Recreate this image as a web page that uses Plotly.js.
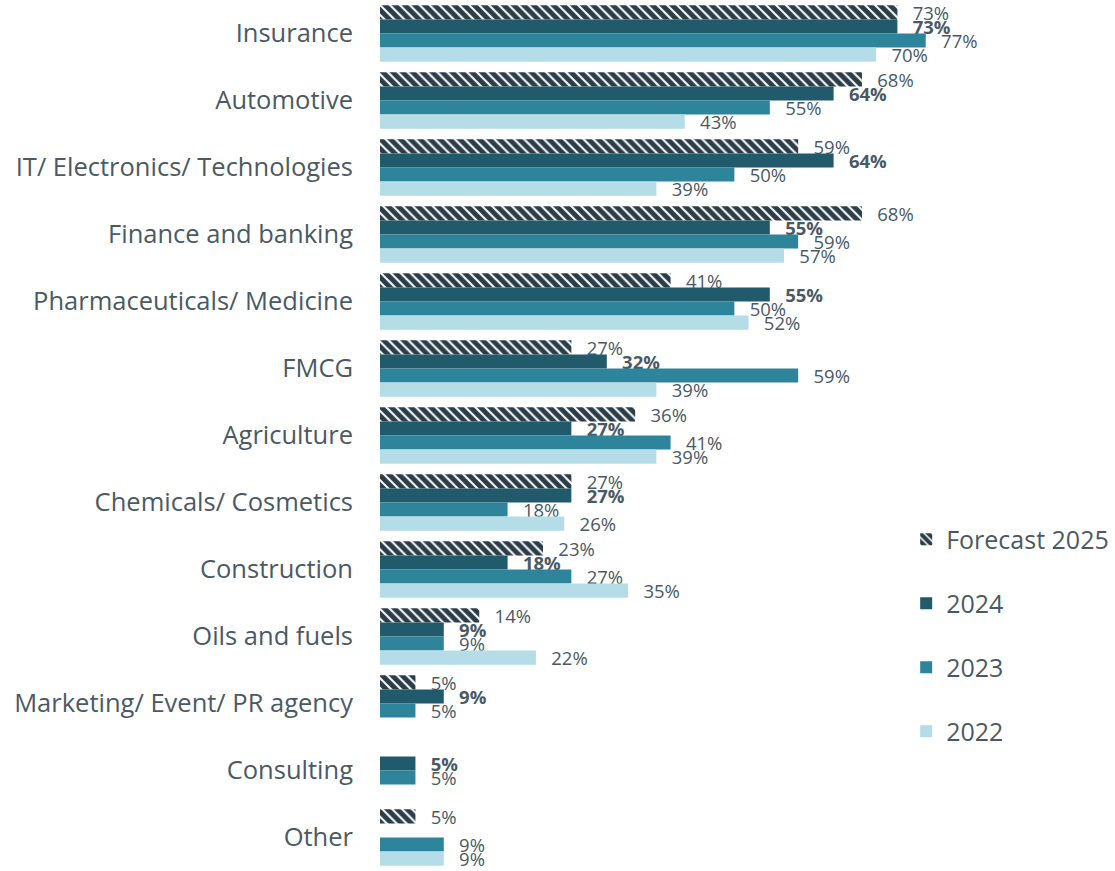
<!DOCTYPE html>
<html>
<head>
<meta charset="utf-8">
<script src="https://cdn.plot.ly/plotly-3.0.1.min.js"></script>
<style>html,body{margin:0;padding:0;background:#fff;}#chart{width:1115px;height:871px;}</style>
</head>
<body>
<div id="chart"></div>
<script>
const categories = ["Insurance","Automotive","IT/ Electronics/ Technologies","Finance and banking","Pharmaceuticals/ Medicine","FMCG","Agriculture","Chemicals/ Cosmetics","Construction","Oils and fuels","Marketing/ Event/ PR agency","Consulting","Other"];
const forecast2025 = [73,68,59,68,41,27,36,27,23,14,5,null,5];
const y2024 = [73,64,64,55,55,32,27,27,18,9,9,5,null];
const y2023 = [77,55,50,59,50,59,41,18,27,9,5,5,9];
const y2022 = [70,43,39,57,52,39,39,26,35,22,null,null,9];

const txtColor = "#4a5a64";
const fontFam = "'Open Sans', 'Noto Sans', sans-serif";

function mk(name, vals, color, bold, pattern){
  const t = {
    type: "bar", orientation: "h", name: name,
    y: categories, x: vals,
    text: vals.map(v => v == null ? "" : "\u2002\u2009" + v + "%"),
    textposition: "outside",
    constraintext: "none",
    cliponaxis: false,
    textfont: {family: fontFam, size: 18.5, color: txtColor, weight: bold ? 700 : 400},
    marker: {color: color, line: {width: 0}},
    legendgroup: name,
    hoverinfo: "skip"
  };
  if (pattern) {
    t.marker = {color: "#ffffff", line: {width: 0},
      pattern: {shape: "\\", fgcolor: "#2b3d48", fgopacity: 1, bgcolor: "#ffffff", size: 7, solidity: 0.72, fillmode: "overlay"}};
  }
  return t;
}

const data = [
  mk("Forecast 2025", forecast2025, "#3d4f5a", false, true),
  mk("2024", y2024, "#215a6b", true, false),
  mk("2023", y2023, "#2e849a", false, false),
  mk("2022", y2022, "#b5dde7", false, false)
];

const layout = {
  width: 1115, height: 871,
  margin: {l: 380, r: 168, t: 0, b: 0, pad: 0},
  paper_bgcolor: "#fff", plot_bgcolor: "#fff",
  barmode: "group", bargap: 0.16, bargroupgap: 0,
  showlegend: true,
  font: {family: fontFam, color: txtColor},
  xaxis: {range: [0, 80], visible: false, showgrid: false, zeroline: false, fixedrange: true},
  yaxis: {autorange: "reversed", type: "category", showgrid: false, zeroline: false, showline: false,
    ticks: "", ticklabelstandoff: 26, tickfont: {family: fontFam, size: 25.5, color: txtColor}},
  legend: {x: 0.928, xanchor: "left", y: 0.407, yanchor: "top",
    traceorder: "grouped", tracegroupgap: 28.5,
    font: {family: fontFam, size: 25, color: txtColor}, itemwidth: 30, bgcolor: "rgba(0,0,0,0)"}
};

Plotly.newPlot("chart", data, layout, {displayModeBar: false, staticPlot: true});
</script>
</body>
</html>
